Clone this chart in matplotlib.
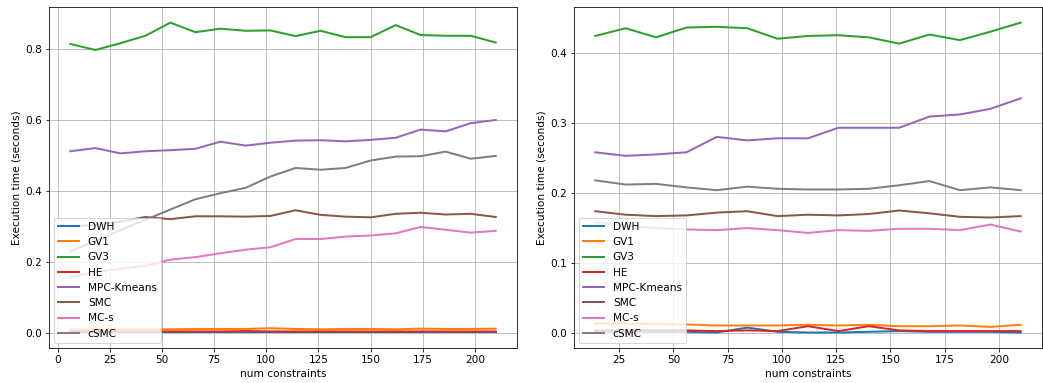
import matplotlib
matplotlib.use("Agg")
import matplotlib.pyplot as plt

plt.rcParams['font.size'] = 10.5

labels = ["DWH", "GV1", "GV3", "HE", "MPC-Kmeans", "SMC", "MC-s", "cSMC"]

# left panel
x_left = [6, 18, 30, 42, 54, 66, 78, 90, 102, 114, 126, 138, 150, 162, 174, 186, 198, 210]
dwh_left = [0.002, 0.002, 0.002, 0.002, 0.002, 0.002, 0.002, 0.002, 0.002, 0.002, 0.002, 0.002, 0.002, 0.002, 0.002, 0.002, 0.002, 0.002]
gv1_left = [0.010, 0.011, 0.011, 0.011, 0.011, 0.012, 0.012, 0.012, 0.014, 0.012, 0.011, 0.012, 0.012, 0.011, 0.013, 0.012, 0.012, 0.013]
gv3_left = [0.814, 0.797, 0.816, 0.837, 0.874, 0.847, 0.857, 0.851, 0.852, 0.836, 0.851, 0.833, 0.833, 0.867, 0.839, 0.837, 0.837, 0.818]
he_left = [0.005, 0.005, 0.005, 0.005, 0.005, 0.005, 0.005, 0.006, 0.005, 0.005, 0.005, 0.005, 0.005, 0.005, 0.005, 0.005, 0.005, 0.005]
mpc_left = [0.512, 0.521, 0.506, 0.512, 0.515, 0.519, 0.539, 0.528, 0.536, 0.542, 0.543, 0.540, 0.544, 0.550, 0.573, 0.568, 0.591, 0.600]
smc_left = [0.300, 0.305, 0.314, 0.327, 0.321, 0.329, 0.329, 0.328, 0.330, 0.346, 0.333, 0.328, 0.326, 0.336, 0.339, 0.334, 0.336, 0.327]
mcs_left = [0.158, 0.172, 0.181, 0.190, 0.207, 0.214, 0.225, 0.235, 0.242, 0.265, 0.265, 0.272, 0.275, 0.281, 0.299, 0.291, 0.283, 0.288]
csmc_left = [0.230, 0.260, 0.290, 0.319, 0.348, 0.377, 0.394, 0.409, 0.441, 0.465, 0.460, 0.465, 0.486, 0.497, 0.498, 0.511, 0.491, 0.499]

# right panel
x_right = [14, 28, 42, 56, 70, 84, 98, 112, 126, 140, 154, 168, 182, 196, 210]
dwh_right = [0.002, 0.002, 0.002, 0.002, 0.001, 0.008, 0.002, 0.001, 0.001, 0.002, 0.003, 0.002, 0.002, 0.002, 0.001]
gv1_right = [0.014, 0.014, 0.013, 0.0125, 0.011, 0.011, 0.011, 0.012, 0.011, 0.012, 0.010, 0.010, 0.011, 0.009, 0.012]
gv3_right = [0.424, 0.435, 0.422, 0.436, 0.437, 0.435, 0.420, 0.424, 0.425, 0.422, 0.413, 0.426, 0.418, 0.430, 0.443]
he_right = [0.004, 0.004, 0.004, 0.004, 0.003, 0.004, 0.003, 0.010, 0.003, 0.010, 0.004, 0.003, 0.003, 0.003, 0.003]
mpc_right = [0.258, 0.253, 0.255, 0.258, 0.280, 0.275, 0.278, 0.278, 0.293, 0.293, 0.293, 0.309, 0.312, 0.320, 0.335]
smc_right = [0.174, 0.169, 0.167, 0.168, 0.172, 0.174, 0.167, 0.169, 0.168, 0.170, 0.175, 0.171, 0.166, 0.165, 0.167]
mcs_right = [0.159, 0.153, 0.150, 0.148, 0.147, 0.150, 0.147, 0.143, 0.147, 0.146, 0.149, 0.149, 0.147, 0.155, 0.145]
csmc_right = [0.218, 0.212, 0.213, 0.208, 0.204, 0.209, 0.206, 0.205, 0.205, 0.206, 0.211, 0.217, 0.204, 0.208, 0.204]

left_series = [dwh_left, gv1_left, gv3_left, he_left, mpc_left, smc_left, mcs_left, csmc_left]
right_series = [dwh_right, gv1_right, gv3_right, he_right, mpc_right, smc_right, mcs_right, csmc_right]

fig = plt.figure(figsize=(1043 / 72, 383 / 72), dpi=72)
ax1 = fig.add_axes([0.047, 0.0914, 0.4487, 0.890])
ax2 = fig.add_axes([0.5503, 0.0914, 0.4487, 0.890])

for ax, xs, series in [(ax1, x_left, left_series), (ax2, x_right, right_series)]:
    for ys, lab in zip(series, labels):
        ax.plot(xs, ys, label=lab, linewidth=2)
    ax.grid(True)
    ax.set_xlabel('num constraints')
    ax.set_ylabel('Execution time (seconds)')
    ax.legend(loc='lower left')

fig.savefig('out.png', dpi=72)
